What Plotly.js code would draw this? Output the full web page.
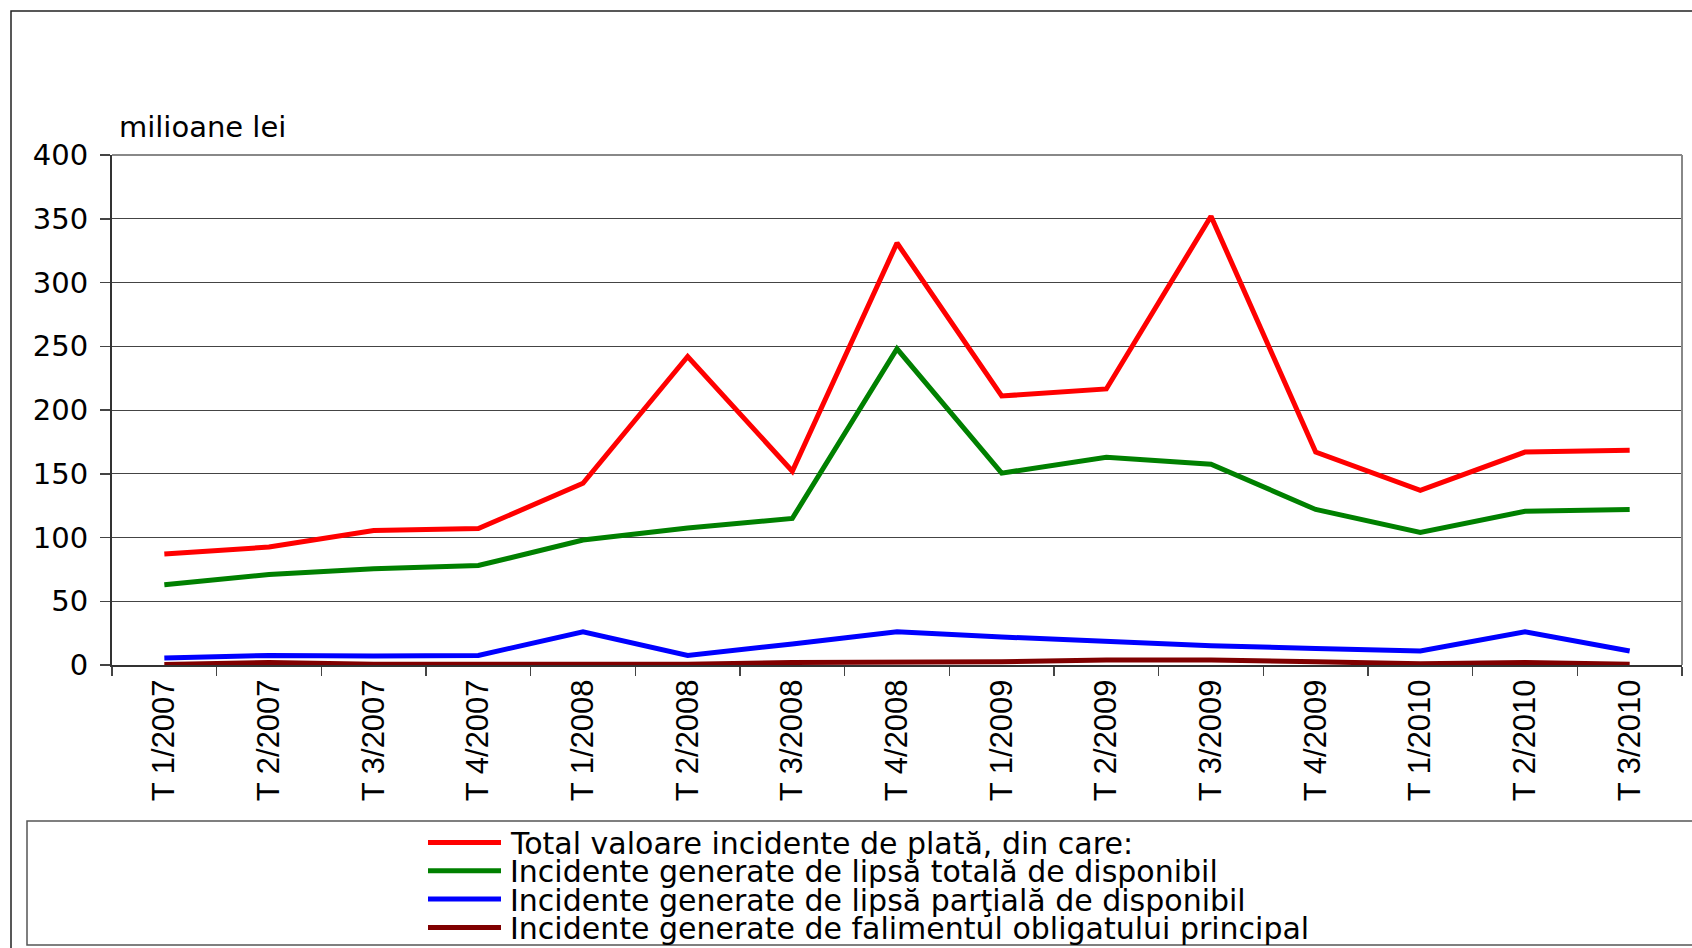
<!DOCTYPE html>
<html>
<head>
<meta charset="utf-8">
<script src="https://cdn.plot.ly/plotly-3.0.1.min.js"></script>
<style>
  html, body { margin: 0; padding: 0; background: #fff; }
  #chart { width: 1692px; height: 948px; }
</style>
</head>
<body>
<div id="chart"></div>
<script>
// ---- Data ----
const categories = ['T 1/2007', 'T 2/2007', 'T 3/2007', 'T 4/2007',
                    'T 1/2008', 'T 2/2008', 'T 3/2008', 'T 4/2008',
                    'T 1/2009', 'T 2/2009', 'T 3/2009', 'T 4/2009',
                    'T 1/2010', 'T 2/2010', 'T 3/2010'];
const totalValoare = [87, 92.5, 105.5, 107, 142.5, 242, 152, 331, 211, 216.5, 352, 167, 137, 167, 168.5];
const lipsaTotala = [63, 71, 75.5, 78, 98, 107.5, 115, 248, 150.5, 163, 157.5, 122, 104, 120.5, 122];
const lipsaPartiala = [5.5, 7.5, 7, 7.5, 26, 7.5, 16.5, 26, 22, 18.5, 15, 13, 11, 26, 11];
const faliment = [0.3, 2, 0.5, 0.5, 0.5, 0.5, 2, 2.5, 2.5, 4, 4, 2.5, 1, 2, 0.5];
const seriesNames = [
  'Total valoare incidente de plată, din care:',
  'Incidente generate de lipsă totală de disponibil',
  'Incidente generate de lipsă parţială de disponibil',
  'Incidente generate de falimentul obligatului principal'
];
const seriesColors = ['#FF0000', '#008000', '#0000FF', '#800000'];
const yTicks = [0, 50, 100, 150, 200, 250, 300, 350, 400];
const yUnit = 'milioane lei';

// ---- Geometry (pixels) ----
const W = 1692, H = 948;
const PL = 112, PR = 1682, PT = 155, PB = 665;
const px2x = x => (x - PL) / (PR - PL);
const px2y = y => (PB - y) / (PB - PT);

const seriesValues = [totalValoare, lipsaTotala, lipsaPartiala, faliment];
const traces = seriesValues.map((vals, i) => ({
  type: 'scatter',
  mode: 'lines',
  x: categories,
  y: vals,
  name: seriesNames[i],
  line: { color: seriesColors[i], width: 5 },
  showlegend: false,
  hoverinfo: 'x+y+name'
}));

const shapes = [];
const annotations = [];

// outer frame
shapes.push({ type: 'rect', xref: 'paper', yref: 'paper',
  x0: px2x(11), x1: px2x(1720), y0: px2y(11), y1: px2y(980),
  line: { color: '#222', width: 1.5 }, layer: 'below' });
// plot top / right borders
shapes.push({ type: 'line', xref: 'paper', yref: 'paper',
  x0: 0, x1: 1, y0: 1, y1: 1, line: { color: '#888', width: 2 } });
shapes.push({ type: 'line', xref: 'paper', yref: 'paper',
  x0: 1, x1: 1, y0: 0, y1: 1, line: { color: '#888', width: 2 } });
// legend box
shapes.push({ type: 'rect', xref: 'paper', yref: 'paper',
  x0: px2x(27), x1: px2x(1720), y0: px2y(821), y1: px2y(945),
  line: { color: '#555', width: 1.5 } });

const legendRowY = [842.5, 870.8, 899.1, 927.4];
seriesNames.forEach((nm, i) => {
  shapes.push({ type: 'line', xref: 'paper', yref: 'paper',
    x0: px2x(428), x1: px2x(501), y0: px2y(legendRowY[i]), y1: px2y(legendRowY[i]),
    line: { color: seriesColors[i], width: 5 } });
  annotations.push({ xref: 'paper', yref: 'paper', x: px2x(508), y: px2y(legendRowY[i] + 1),
    xanchor: 'left', yanchor: 'middle', showarrow: false, text: nm,
    font: { family: 'DejaVu Sans', size: 30, color: '#000' } });
});

annotations.push({ xref: 'paper', yref: 'paper', x: px2x(117), y: px2y(127),
  xanchor: 'left', yanchor: 'middle', showarrow: false, text: yUnit,
  font: { family: 'DejaVu Sans', size: 29, color: '#000' } });

const layout = {
  width: W, height: H,
  margin: { l: PL, r: W - PR, t: PT, b: H - PB, pad: 0 },
  paper_bgcolor: '#fff', plot_bgcolor: '#fff',
  showlegend: false,
  xaxis: {
    type: 'category',
    range: [-0.5, categories.length - 0.5],
    tickson: 'boundaries',
    ticks: 'outside', ticklen: 9, tickwidth: 1.5, tickcolor: '#444',
    tickangle: -90,
    tickfont: { family: 'Liberation Sans, Arial', size: 31, color: '#000' },
    showgrid: false,
    showline: true, linecolor: '#333', linewidth: 2,
    zeroline: false, fixedrange: true
  },
  yaxis: {
    range: [0, 400],
    tickvals: yTicks,
    ticktext: yTicks.map(String),
    ticks: 'outside', ticklen: 10, tickwidth: 1.5, tickcolor: '#444',
    tickfont: { family: 'DejaVu Sans', size: 29, color: '#000' },
    ticklabelstandoff: 6,
    showgrid: true, gridcolor: '#444', gridwidth: 1,
    showline: true, linecolor: '#333', linewidth: 2,
    zeroline: false, fixedrange: true
  },
  shapes: shapes,
  annotations: annotations
};

Plotly.newPlot('chart', traces, layout, { displayModeBar: false, staticPlot: true });
</script>
</body>
</html>
